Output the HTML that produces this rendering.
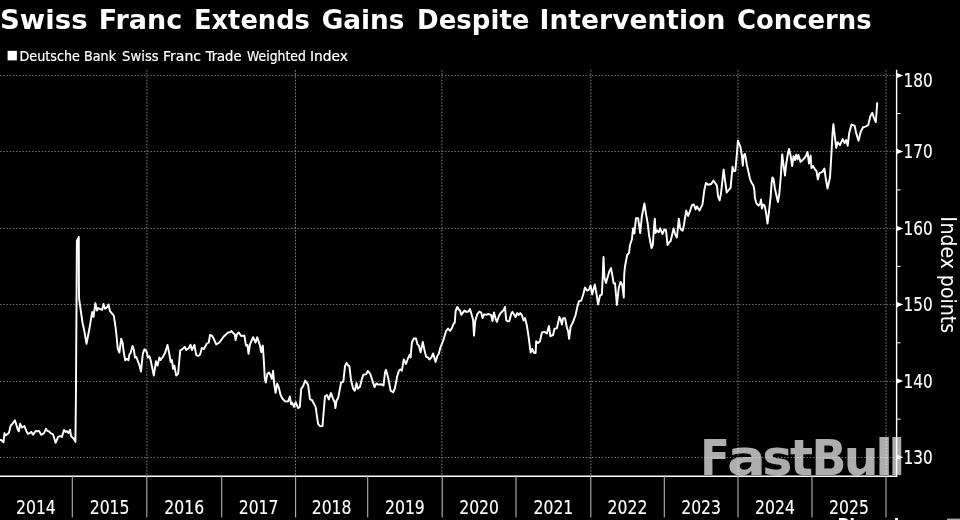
<!DOCTYPE html>
<html lang="en"><head><meta charset="utf-8"><title>Swiss Franc Extends Gains Despite Intervention Concerns</title>
<style>html,body{margin:0;padding:0;background:#000;overflow:hidden}svg{display:block}.t{font-family:'DejaVu Sans Condensed','DejaVu Sans','Liberation Sans',sans-serif;fill:#fff}.b{font-family:'DejaVu Sans','Liberation Sans',sans-serif;font-weight:bold;fill:#fff}</style></head><body>
<svg width="960" height="520" viewBox="0 0 960 520">
<rect width="960" height="520" fill="#000"/>
<text class="b" font-size="27.3" y="28.7"><tspan x="0.02" textLength="87.53" lengthAdjust="spacingAndGlyphs">Swiss</tspan> <tspan x="98.77" textLength="83.54" lengthAdjust="spacingAndGlyphs">Franc</tspan> <tspan x="193.89" textLength="116.08" lengthAdjust="spacingAndGlyphs">Extends</tspan> <tspan x="321.69" textLength="82.81" lengthAdjust="spacingAndGlyphs">Gains</tspan> <tspan x="417.11" textLength="112.40" lengthAdjust="spacingAndGlyphs">Despite</tspan> <tspan x="539.56" textLength="185.76" lengthAdjust="spacingAndGlyphs">Intervention</tspan> <tspan x="736.96" textLength="134.77" lengthAdjust="spacingAndGlyphs">Concerns</tspan></text>
<rect x="7.6" y="50.8" width="9.3" height="9.6" fill="#fff"/>
<text class="t" font-size="13.6" y="60.6" stroke="#fff" stroke-width="0.2"><tspan x="19.55" textLength="60.33" lengthAdjust="spacingAndGlyphs">Deutsche</tspan> <tspan x="84.05" textLength="31.99" lengthAdjust="spacingAndGlyphs">Bank</tspan> <tspan x="122.13" textLength="36.52" lengthAdjust="spacingAndGlyphs">Swiss</tspan> <tspan x="163.12" textLength="37.95" lengthAdjust="spacingAndGlyphs">Franc</tspan> <tspan x="205.83" textLength="35.67" lengthAdjust="spacingAndGlyphs">Trade</tspan> <tspan x="247.09" textLength="58.74" lengthAdjust="spacingAndGlyphs">Weighted</tspan> <tspan x="309.94" textLength="38.01" lengthAdjust="spacingAndGlyphs">Index</tspan></text>
<g stroke="#666" stroke-width="1" stroke-dasharray="1.6 1.6" fill="none">
<line x1="0" y1="75.5" x2="896" y2="75.5"/>
<line x1="0" y1="151.5" x2="896" y2="151.5"/>
<line x1="0" y1="228.5" x2="896" y2="228.5"/>
<line x1="0" y1="304.5" x2="896" y2="304.5"/>
<line x1="0" y1="381.5" x2="896" y2="381.5"/>
<line x1="0" y1="457.5" x2="896" y2="457.5"/>
</g>
<g stroke="#7c7c7c" stroke-width="1" stroke-dasharray="1.7 1.5" fill="none">
<line x1="146.9" y1="70" x2="146.9" y2="476"/>
<line x1="295.5" y1="70" x2="295.5" y2="476"/>
<line x1="441.9" y1="70" x2="441.9" y2="476"/>
<line x1="590.9" y1="70" x2="590.9" y2="476"/>
<line x1="738.0" y1="70" x2="738.0" y2="476"/>
<line x1="886.0" y1="70" x2="886.0" y2="476"/>
</g>
<g stroke="#fff" stroke-width="1.4" fill="none">
<line x1="0" y1="476.3" x2="897.3" y2="476.3"/>
<line x1="896.6" y1="69.8" x2="896.6" y2="477"/>
</g>
<g stroke="#fff" stroke-width="1" fill="none">
<line x1="896.6" y1="419.1" x2="900.6" y2="419.1"/>
<line x1="896.6" y1="342.8" x2="900.6" y2="342.8"/>
<line x1="896.6" y1="266.4" x2="900.6" y2="266.4"/>
<line x1="896.6" y1="189.9" x2="900.6" y2="189.9"/>
<line x1="896.6" y1="113.5" x2="900.6" y2="113.5"/>
</g>
<g class="t" font-size="18.8" stroke="#fff" stroke-width="0.12">
<path d="M897 73.1 L903.3 75.6 L897 78.1 Z" stroke="none"/>
<text x="903.5" y="86.8" textLength="29.2" lengthAdjust="spacingAndGlyphs">180</text>
<path d="M897 149.0 L903.3 151.5 L897 154.0 Z" stroke="none"/>
<text x="903.5" y="158.1" textLength="29.2" lengthAdjust="spacingAndGlyphs">170</text>
<path d="M897 225.9 L903.3 228.4 L897 230.9 Z" stroke="none"/>
<text x="903.5" y="235.0" textLength="29.2" lengthAdjust="spacingAndGlyphs">160</text>
<path d="M897 301.9 L903.3 304.4 L897 306.9 Z" stroke="none"/>
<text x="903.5" y="311.0" textLength="29.2" lengthAdjust="spacingAndGlyphs">150</text>
<path d="M897 378.6 L903.3 381.1 L897 383.6 Z" stroke="none"/>
<text x="903.5" y="387.7" textLength="29.2" lengthAdjust="spacingAndGlyphs">140</text>
<path d="M897 454.7 L903.3 457.2 L897 459.7 Z" stroke="none"/>
<text x="903.5" y="463.8" textLength="29.2" lengthAdjust="spacingAndGlyphs">130</text>
</g>
<text class="t" font-size="21.6" transform="translate(940.5 215.5) rotate(90)"><tspan x="0.8">I</tspan><tspan x="6.9" textLength="110.6" lengthAdjust="spacingAndGlyphs">ndex points</tspan></text>
<g stroke="#b4b4b4" stroke-width="1.1" fill="none">
<line x1="72.3" y1="476" x2="72.3" y2="517.6"/>
<line x1="146.8" y1="476" x2="146.8" y2="517.6"/>
<line x1="221.7" y1="476" x2="221.7" y2="517.6"/>
<line x1="295.6" y1="476" x2="295.6" y2="517.6"/>
<line x1="367.7" y1="476" x2="367.7" y2="517.6"/>
<line x1="442.2" y1="476" x2="442.2" y2="517.6"/>
<line x1="516.0" y1="476" x2="516.0" y2="517.6"/>
<line x1="590.8" y1="476" x2="590.8" y2="517.6"/>
<line x1="664.3" y1="476" x2="664.3" y2="517.6"/>
<line x1="738.0" y1="476" x2="738.0" y2="517.6"/>
<line x1="812.0" y1="476" x2="812.0" y2="517.6"/>
<line x1="886.0" y1="476" x2="886.0" y2="517.6"/>
</g>
<g class="t" font-size="19" text-anchor="middle" stroke="#fff" stroke-width="0.12">
<text x="35.9" y="513.9" textLength="39.8" lengthAdjust="spacingAndGlyphs">2014</text>
<text x="109.6" y="513.9" textLength="39.8" lengthAdjust="spacingAndGlyphs">2015</text>
<text x="184.2" y="513.9" textLength="39.8" lengthAdjust="spacingAndGlyphs">2016</text>
<text x="258.6" y="513.9" textLength="39.8" lengthAdjust="spacingAndGlyphs">2017</text>
<text x="331.6" y="513.9" textLength="39.8" lengthAdjust="spacingAndGlyphs">2018</text>
<text x="404.9" y="513.9" textLength="39.8" lengthAdjust="spacingAndGlyphs">2019</text>
<text x="479.1" y="513.9" textLength="39.8" lengthAdjust="spacingAndGlyphs">2020</text>
<text x="553.4" y="513.9" textLength="39.8" lengthAdjust="spacingAndGlyphs">2021</text>
<text x="627.5" y="513.9" textLength="39.8" lengthAdjust="spacingAndGlyphs">2022</text>
<text x="701.1" y="513.9" textLength="39.8" lengthAdjust="spacingAndGlyphs">2023</text>
<text x="775.0" y="513.9" textLength="39.8" lengthAdjust="spacingAndGlyphs">2024</text>
<text x="849.0" y="513.9" textLength="39.8" lengthAdjust="spacingAndGlyphs">2025</text>
</g>
<path d="M0.0 440.0 L1.9 440.3 L3.5 442.3 L4.5 433.1 L5.6 435.6 L7.5 434.0 L9.0 432.8 L10.6 425.6 L12.5 423.8 L14.8 420.4 L16.0 423.8 L17.5 428.8 L18.8 431.3 L20.2 423.8 L21.9 427.5 L24.4 426.0 L26.2 430.6 L27.8 433.8 L29.8 433.1 L31.2 431.9 L33.1 434.8 L35.6 431.0 L37.5 431.2 L39.0 430.9 L41.2 434.8 L44.0 433.1 L46.0 428.8 L47.5 431.0 L48.8 431.2 L50.6 433.1 L53.1 434.4 L54.0 437.5 L55.6 442.8 L58.1 436.9 L60.0 436.2 L61.9 436.9 L64.0 430.0 L65.6 431.9 L66.9 431.2 L68.5 433.1 L70.0 429.8 L71.2 436.2 L73.8 438.8 L75.4 441.9 L75.9 400.0 L76.9 241.0 L78.8 236.8 L78.9 285.0 L79.1 298.8 L82.5 322.5 L84.4 331.2 L86.5 343.8 L89.4 328.8 L92.2 311.9 L93.5 316.9 L95.4 303.1 L96.9 310.6 L98.1 308.1 L100.0 309.0 L102.2 309.8 L103.5 304.0 L105.0 308.8 L106.9 307.5 L108.5 304.4 L110.0 311.2 L113.8 315.6 L115.6 327.5 L116.2 332.5 L117.8 348.8 L119.4 352.5 L121.2 338.8 L122.5 342.5 L124.0 353.8 L125.2 360.2 L126.9 358.8 L128.5 360.2 L129.4 354.4 L130.6 353.1 L132.5 346.0 L133.8 349.4 L135.0 357.5 L136.2 356.9 L139.4 365.0 L141.0 371.5 L142.8 353.8 L144.4 349.4 L145.6 349.8 L146.9 352.5 L147.8 357.5 L149.4 356.2 L150.6 360.0 L153.8 375.6 L156.0 361.2 L157.5 365.6 L159.4 357.5 L160.6 360.0 L162.5 357.5 L165.0 353.1 L167.5 345.0 L169.4 354.4 L170.6 361.9 L171.9 360.0 L173.1 368.8 L174.4 365.6 L176.2 375.6 L178.1 373.8 L180.2 350.6 L182.5 349.0 L184.8 346.9 L186.2 350.0 L188.8 348.1 L190.6 344.8 L191.9 350.0 L194.4 344.8 L196.2 355.0 L198.1 356.0 L200.0 354.8 L201.9 348.1 L203.8 349.0 L206.9 343.5 L208.8 342.5 L210.0 335.0 L211.9 335.6 L213.8 338.8 L216.2 344.4 L219.4 342.5 L223.5 336.8 L228.1 332.5 L230.0 332.2 L231.5 331.0 L233.1 333.1 L234.8 334.4 L235.6 340.0 L236.9 334.4 L238.8 332.5 L241.2 336.0 L244.4 335.6 L246.0 345.6 L247.5 345.0 L248.5 353.8 L250.0 344.4 L253.1 337.2 L255.6 342.5 L257.2 337.2 L260.0 345.6 L261.2 352.2 L262.8 345.6 L263.8 360.0 L264.8 378.5 L265.8 382.5 L267.4 373.8 L269.0 372.6 L270.4 375.0 L271.7 378.8 L273.1 370.8 L274.1 383.0 L275.6 392.8 L277.2 383.5 L278.8 387.5 L280.6 395.0 L282.5 398.8 L285.0 401.2 L288.1 401.5 L289.8 396.5 L291.2 404.4 L292.2 402.5 L294.0 406.9 L295.6 402.2 L298.1 408.1 L299.8 406.9 L301.2 388.8 L303.1 386.2 L305.2 380.6 L308.1 384.8 L310.0 399.4 L311.9 400.0 L315.6 406.9 L318.1 423.8 L320.0 426.2 L322.5 426.0 L323.5 413.8 L325.0 396.2 L326.9 395.0 L328.8 399.4 L331.0 393.1 L333.1 398.8 L334.8 402.5 L335.4 408.1 L336.5 400.6 L338.1 398.1 L341.1 382.5 L343.3 381.9 L345.0 366.2 L346.5 362.8 L348.1 365.6 L349.4 366.2 L351.0 380.0 L353.1 388.5 L354.8 390.8 L356.5 383.1 L357.8 388.8 L359.9 386.9 L361.9 378.8 L363.5 374.6 L366.2 374.2 L367.8 370.9 L370.3 374.0 L372.8 381.9 L374.6 387.2 L376.4 383.4 L378.5 384.6 L381.2 384.2 L383.5 385.6 L385.0 372.5 L386.0 369.8 L388.1 377.5 L390.6 390.6 L393.1 392.2 L394.8 388.8 L397.2 376.2 L399.0 370.6 L400.2 369.4 L401.9 370.6 L403.8 359.4 L406.0 364.0 L407.8 358.8 L409.8 354.4 L410.6 357.5 L411.9 342.5 L413.8 338.5 L416.0 338.5 L417.5 344.4 L418.8 345.6 L420.6 352.2 L422.8 341.9 L424.4 350.0 L426.2 356.9 L428.1 357.5 L429.4 359.4 L431.2 357.8 L433.1 353.5 L435.6 361.9 L437.2 356.2 L438.8 353.8 L440.4 347.5 L443.4 340.2 L446.0 331.2 L448.1 328.5 L450.0 331.0 L451.9 328.1 L453.5 324.0 L454.8 322.5 L455.6 311.2 L457.2 306.9 L458.8 309.4 L460.2 311.0 L461.2 314.8 L464.4 310.6 L466.2 311.9 L468.5 311.5 L470.0 309.0 L471.9 315.6 L473.1 320.0 L474.0 335.6 L475.2 321.2 L477.2 314.4 L479.4 311.5 L481.2 312.5 L482.5 318.1 L484.0 314.4 L486.2 314.8 L488.8 314.0 L491.2 315.2 L492.5 321.0 L494.0 312.5 L495.6 318.8 L496.9 321.9 L498.8 316.2 L500.6 313.1 L503.5 310.2 L505.0 306.9 L506.2 320.0 L507.5 321.2 L509.4 321.0 L511.2 313.8 L512.5 311.9 L515.6 316.9 L517.2 313.1 L518.5 315.0 L520.2 313.1 L521.9 315.0 L523.5 320.6 L525.0 318.1 L526.9 325.6 L528.5 336.2 L530.6 352.5 L532.2 348.8 L534.0 352.8 L535.6 353.1 L536.2 341.2 L538.1 343.1 L540.0 341.2 L541.9 332.5 L544.4 331.9 L546.9 333.5 L548.9 326.0 L550.4 336.2 L553.1 335.0 L554.4 329.0 L556.9 328.1 L558.1 323.1 L559.4 316.9 L560.6 319.4 L561.9 324.4 L563.1 318.1 L565.0 318.1 L566.9 327.5 L568.1 331.2 L569.1 338.8 L570.6 326.9 L573.1 321.9 L575.6 315.0 L577.5 306.2 L579.0 301.2 L581.2 300.6 L583.1 295.0 L585.0 287.5 L586.9 290.6 L588.8 290.0 L590.6 285.6 L592.2 294.4 L594.8 284.4 L596.5 293.8 L598.1 304.4 L600.0 295.6 L601.9 294.4 L602.8 275.0 L603.5 256.9 L604.4 277.5 L606.0 283.1 L607.5 277.5 L609.4 271.2 L611.0 268.1 L612.5 276.2 L613.6 283.4 L615.0 283.2 L616.9 305.0 L618.8 287.5 L620.6 281.9 L622.2 284.7 L623.8 297.5 L624.2 275.0 L625.0 266.2 L627.2 255.0 L629.0 253.1 L630.0 245.0 L631.9 239.4 L633.1 228.3 L634.4 233.5 L636.0 218.1 L638.1 218.1 L640.2 233.1 L641.9 216.2 L644.4 203.5 L646.2 215.0 L647.8 223.8 L649.0 235.0 L650.2 241.2 L651.5 248.1 L652.8 245.0 L654.0 227.5 L654.8 218.8 L655.6 233.0 L656.7 230.3 L658.8 232.2 L660.1 228.2 L662.5 234.1 L664.4 229.4 L666.0 230.2 L667.5 245.0 L669.4 241.9 L670.6 241.2 L672.2 234.5 L673.6 228.5 L675.2 234.5 L676.9 237.5 L677.9 228.2 L678.8 218.8 L680.0 227.0 L681.0 229.4 L682.7 230.6 L683.9 225.0 L686.2 210.6 L688.1 216.0 L690.0 211.2 L691.9 205.2 L693.8 204.4 L695.6 209.4 L696.9 206.5 L699.4 210.6 L702.5 204.4 L704.4 189.4 L706.0 183.1 L708.1 184.8 L711.2 184.0 L713.5 180.6 L715.2 183.0 L716.9 185.6 L718.1 196.6 L719.6 200.4 L721.0 193.5 L723.6 169.6 L726.7 192.5 L730.6 187.8 L732.5 166.8 L733.7 171.2 L735.3 170.9 L736.9 153.8 L737.9 140.6 L740.6 147.5 L741.9 156.2 L742.8 165.6 L743.5 155.6 L745.0 154.0 L746.9 165.0 L750.0 178.8 L751.2 181.9 L753.5 185.8 L754.4 190.6 L754.9 198.0 L756.4 203.3 L758.5 205.6 L760.1 203.8 L761.0 199.6 L761.9 208.4 L763.1 204.5 L764.5 205.4 L765.9 211.7 L767.5 223.6 L769.1 210.7 L770.7 195.9 L771.6 183.0 L772.4 177.5 L773.5 178.8 L774.9 188.5 L776.5 195.9 L777.9 202.0 L779.3 194.0 L780.7 178.0 L781.5 165.0 L782.2 154.4 L783.5 165.0 L785.0 175.6 L786.2 163.8 L788.1 152.5 L789.0 149.0 L790.6 155.6 L792.2 166.0 L793.5 156.2 L795.0 160.0 L796.2 154.8 L797.5 159.4 L798.5 155.0 L800.6 161.9 L803.8 158.8 L806.2 155.6 L807.5 151.9 L809.0 163.5 L810.6 155.6 L811.5 168.1 L813.1 166.0 L815.0 169.4 L816.5 171.2 L817.8 179.4 L819.4 173.1 L822.5 171.9 L824.4 168.5 L825.6 177.5 L827.5 188.5 L830.0 177.5 L831.3 156.0 L832.6 132.0 L833.4 124.2 L834.6 134.6 L836.2 147.7 L837.7 142.3 L840.0 145.1 L842.6 139.2 L844.6 143.1 L846.2 140.0 L847.7 145.7 L849.2 133.1 L851.5 124.6 L854.6 125.7 L856.2 133.1 L858.5 140.8 L860.8 131.5 L863.1 127.2 L865.4 126.6 L868.2 125.1 L870.3 116.2 L872.3 112.8 L873.8 117.7 L875.8 122.0 L877.2 103.1" fill="none" stroke="#fff" stroke-width="1.95" stroke-linejoin="round" stroke-linecap="round"/>
<text y="475" font-family="'DejaVu Sans','Liberation Sans',sans-serif" font-weight="bold" font-size="50.30" fill="#fff" fill-opacity="0.68">
<tspan x="700.21" textLength="29.64" lengthAdjust="spacingAndGlyphs">F</tspan><tspan x="726.90" textLength="39.17" lengthAdjust="spacingAndGlyphs">a</tspan><tspan x="762.26" textLength="30.24" lengthAdjust="spacingAndGlyphs">s</tspan><tspan x="789.97" textLength="23.03" lengthAdjust="spacingAndGlyphs">t</tspan><tspan x="811.38" textLength="34.93" lengthAdjust="spacingAndGlyphs">B</tspan><tspan x="843.69" textLength="34.82" lengthAdjust="spacingAndGlyphs">u</tspan><tspan x="874.91" textLength="18.32" lengthAdjust="spacingAndGlyphs">l</tspan><tspan x="888.30" textLength="17.14" lengthAdjust="spacingAndGlyphs">l</tspan></text>
<text class="b" x="837.4" y="530.4" font-size="16" fill="#ddd">Bloomberg</text>
<rect x="947" y="518.6" width="13" height="2" fill="#aaa"/>
</svg></body></html>
